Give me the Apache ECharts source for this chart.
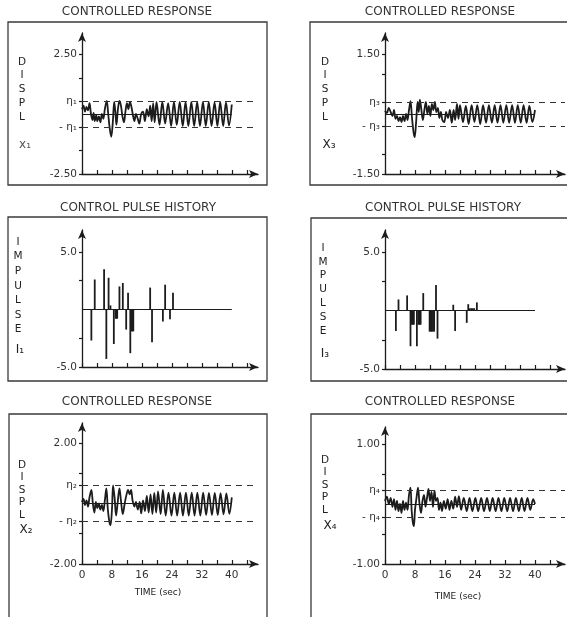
<!DOCTYPE html>
<html>
<head>
<meta charset="utf-8">
<script src="https://cdn.jsdelivr.net/npm/echarts@6/dist/echarts.min.js"></script>
<style>
html, body { margin: 0; padding: 0; background: #fff; }
#main { width: 567px; height: 617px; }
</style>
</head>
<body>
<div id="main"></div>
<script>
// time axis
var timeTicks = [0, 4, 8, 12, 16, 20, 24, 28, 32, 36, 40, 44];
var timeLabels = [0, 8, 16, 24, 32, 40];

// dead-band half widths
var eta1 = 0.55, eta2 = 0.6, eta3 = 0.3, eta4 = 0.22;

// controlled response x1 [t, displ]
var x1Data = [
    [0, 0.2], [0.4, 0.35], [0.8, 0.1], [1.2, 0.3], [1.6, 0.15], [2.0, 0.45], [2.4, 0.0], [2.8, -0.25],
    [3.1, 0.05], [3.4, -0.3], [3.8, -0.05], [4.1, -0.3], [4.5, -0.1], [4.9, -0.35], [5.3, 0.0], [5.7, -0.2],
    [6.1, 0.2], [6.6, 0.55], [7.0, 0.0], [7.4, -0.6], [7.8, -0.95], [8.2, -0.4], [8.6, 0.5], [8.9, 0.1],
    [9.2, -0.45], [9.6, 0.2], [10.0, 0.55], [10.4, 0.35], [10.8, -0.1], [11.2, -0.35], [11.6, 0.1], [12.0, 0.45],
    [12.4, 0.2], [12.8, 0.5], [13.2, 0.3], [13.6, -0.05], [14.0, -0.3], [14.4, 0.0], [14.9, -0.2], [15.3, -0.4],
    [15.8, 0.0], [16.3, 0.1], [16.8, -0.3], [17.3, 0.2], [17.8, -0.1], [18.2, 0.35], [18.6, -0.3], [19.0, 0.45],
    [19.4, -0.35], [19.9, 0.5], [20.7, -0.45], [21.45, 0.5], [22.2, -0.4], [23.0, 0.45], [23.8, -0.5], [24.55, 0.5],
    [25.3, -0.45], [26.1, 0.5], [26.9, -0.5], [27.65, 0.5], [28.4, -0.5], [29.2, 0.5], [29.95, -0.5], [30.75, 0.5],
    [31.5, -0.5], [32.3, 0.5], [33.05, -0.5], [33.85, 0.5], [34.6, -0.5], [35.4, 0.48], [36.15, -0.5], [36.9, 0.5],
    [37.7, -0.5], [38.45, 0.48], [39.25, -0.48], [40.0, 0.4]
];

// controlled response x3
var x3Data = [
    [0, 0.08], [0.5, 0.02], [1.0, 0.15], [1.5, 0.05], [2.0, -0.05], [2.4, 0.1], [2.8, -0.12], [3.2, -0.05],
    [3.6, -0.18], [4.0, -0.08], [4.4, -0.2], [4.8, -0.05], [5.2, -0.18], [5.6, 0.0], [6.0, -0.15], [6.4, 0.1],
    [6.8, 0.32], [7.2, -0.1], [7.6, -0.45], [7.9, -0.58], [8.3, -0.2], [8.7, 0.3], [9.0, 0.05], [9.3, 0.36],
    [9.7, 0.1], [10.1, -0.15], [10.5, 0.1], [10.9, 0.3], [11.3, 0.0], [11.7, 0.2], [12.1, -0.05], [12.5, 0.25],
    [12.9, 0.1], [13.3, 0.3], [13.7, 0.05], [14.1, 0.15], [14.5, -0.1], [14.9, 0.05], [15.3, -0.15], [15.8, -0.2],
    [16.3, 0.05], [16.8, -0.1], [17.3, 0.1], [17.8, -0.22], [18.3, 0.1], [18.7, -0.15], [19.2, 0.25], [19.6, -0.12],
    [20.0, 0.22], [20.8, -0.2], [21.55, 0.2], [22.3, -0.25], [23.1, 0.22], [23.85, -0.2], [24.6, 0.22], [25.4, -0.25],
    [26.15, 0.22], [26.95, -0.22], [27.7, 0.22], [28.5, -0.22], [29.25, 0.22], [30.0, -0.22], [30.8, 0.22], [31.55, -0.22],
    [32.35, 0.22], [33.1, -0.22], [33.9, 0.22], [34.65, -0.22], [35.4, 0.22], [36.2, -0.22], [36.95, 0.22], [37.75, -0.22],
    [38.5, 0.2], [39.3, -0.2], [40.0, 0.1]
];

// controlled response x2
var x2Data = [
    [0, 0.05], [0.4, 0.15], [0.8, -0.05], [1.2, 0.1], [1.6, -0.1], [2.0, 0.2], [2.5, 0.45], [2.9, 0.0],
    [3.3, -0.3], [3.7, 0.05], [4.1, -0.15], [4.5, 0.0], [4.9, -0.2], [5.3, -0.05], [5.7, -0.25], [6.1, 0.1],
    [6.5, 0.5], [6.9, -0.2], [7.3, -0.6], [7.6, -0.72], [8.0, -0.2], [8.3, 0.6], [8.7, 0.2], [9.1, -0.4],
    [9.5, 0.0], [10.0, 0.5], [10.4, 0.1], [10.9, -0.35], [11.4, 0.0], [11.9, 0.3], [12.3, 0.45], [12.7, 0.3],
    [13.1, 0.45], [13.5, 0.1], [14.0, -0.1], [14.4, 0.05], [14.9, -0.2], [15.4, 0.05], [15.8, -0.33], [16.3, 0.1],
    [16.8, -0.25], [17.3, 0.25], [17.8, -0.3], [18.3, 0.3], [18.8, -0.35], [19.3, 0.35], [19.8, -0.3], [20.3, 0.4],
    [21.0, -0.35], [21.6, 0.45], [22.35, -0.4], [23.1, 0.36], [23.9, -0.4], [24.65, 0.36], [25.4, -0.4], [26.2, 0.36],
    [26.95, -0.4], [27.75, 0.36], [28.5, -0.4], [29.3, 0.36], [30.05, -0.4], [30.8, 0.36], [31.6, -0.4], [32.35, 0.36],
    [33.15, -0.38], [33.9, 0.35], [34.7, -0.38], [35.45, 0.35], [36.25, -0.38], [37.0, 0.34], [37.8, -0.36], [38.55, 0.33],
    [39.35, -0.34], [40.0, 0.2]
];

// controlled response x4
var x4Data = [
    [0, 0.05], [0.5, 0.12], [1.0, 0.0], [1.5, 0.1], [2.0, -0.05], [2.4, 0.08], [2.8, -0.1], [3.2, 0.05],
    [3.6, -0.12], [4.0, 0.0], [4.4, -0.15], [4.8, 0.05], [5.2, -0.1], [5.6, 0.02], [6.0, -0.1], [6.4, 0.15],
    [6.8, 0.27], [7.1, -0.1], [7.4, -0.3], [7.7, -0.37], [8.0, -0.1], [8.4, 0.1], [8.8, 0.27], [9.2, 0.0],
    [9.6, -0.15], [10.0, 0.05], [10.4, 0.15], [10.8, -0.05], [11.2, 0.1], [11.6, 0.25], [12.0, 0.05], [12.4, 0.2],
    [12.8, -0.05], [13.2, 0.22], [13.6, 0.05], [14.0, 0.1], [14.4, -0.1], [14.8, 0.02], [15.2, -0.12], [15.7, 0.05],
    [16.2, -0.08], [16.7, 0.08], [17.2, -0.1], [17.7, 0.05], [18.2, -0.08], [18.7, 0.12], [19.2, -0.05], [19.7, 0.13],
    [20.3, -0.1], [21.0, 0.1], [21.8, -0.12], [22.55, 0.1], [23.3, -0.12], [24.1, 0.1], [24.85, -0.12], [25.65, 0.1],
    [26.4, -0.12], [27.2, 0.1], [27.95, -0.12], [28.7, 0.1], [29.5, -0.12], [30.25, 0.1], [31.05, -0.12], [31.8, 0.1],
    [32.6, -0.12], [33.35, 0.1], [34.15, -0.12], [34.9, 0.1], [35.7, -0.12], [36.45, 0.1], [37.2, -0.12], [38.0, 0.1],
    [38.75, -0.1], [39.5, 0.08], [40.0, 0.0]
];

// control pulse history I1 [t, impulse]
var i1Data = [
    [2.5, -2.7], [3.4, 2.6], [5.9, 3.5], [6.5, -4.3], [7.1, 2.75], [7.6, 0.35], [8.5, -3.0], [9.0, -0.8],
    [9.2, -0.8], [9.4, -0.8], [10.0, 2.0], [10.9, 2.3], [11.8, -1.75], [12.3, 1.45], [12.9, -3.8], [13.3, -1.9],
    [13.5, -1.9], [13.7, -1.9], [18.2, 1.9], [18.7, -2.85], [21.6, -1.05], [22.2, 2.15], [23.5, -0.85], [24.3, 1.45]
];

// control pulse history I3
var i3Data = [
    [2.9, -1.75], [3.6, 0.95], [5.9, 1.3], [6.8, -3.05], [7.1, -1.2], [7.3, -1.2], [7.5, -1.2], [7.7, -1.2],
    [8.5, -3.05], [8.9, -1.2], [9.1, -1.2], [9.3, -1.2], [9.5, -1.2], [10.2, 1.5], [11.9, -1.8], [12.2, -1.8],
    [12.5, -1.8], [12.8, -1.8], [13.1, -1.8], [13.6, 2.2], [14.0, -2.4], [18.2, 0.5], [18.7, -1.75], [21.8, -1.05],
    [22.2, 0.55], [22.6, 0.2], [23.0, 0.2], [23.4, 0.2], [23.8, 0.2], [24.5, 0.7]
];

var ink = '#1c1c1c';
var font = 'DejaVu Sans';

var panels = [
    { grid: { left: 82, top: 33, width: 176, height: 141 }, xMax: 47, yMin: -2.5, yMax: 3.375,
      kind: 'resp', data: x1Data, eta: eta1, sub: '₁', ticks: [-2.5, -1.5, -eta1, eta1, 1.5, 2.5], fmt: 2, time: false },
    { grid: { left: 385, top: 33, width: 180, height: 141 }, xMax: 48, yMin: -1.5, yMax: 2.025,
      kind: 'resp', data: x3Data, eta: eta3, sub: '₃', ticks: [-1.5, -1.0, -eta3, eta3, 1.0, 1.5], fmt: 2, time: false },
    { grid: { left: 82, top: 230, width: 176, height: 137 }, xMax: 47, yMin: -5, yMax: 6.9,
      kind: 'pulse', data: i1Data, ticks: [-5, -2.5, 2.5, 5], fmt: 1, time: false },
    { grid: { left: 385, top: 230, width: 180, height: 139 }, xMax: 48, yMin: -5, yMax: 6.9,
      kind: 'pulse', data: i3Data, ticks: [-5, -2.5, 2.5, 5], fmt: 1, time: false },
    { grid: { left: 82, top: 423, width: 176, height: 141 }, xMax: 47, yMin: -2, yMax: 2.66,
      kind: 'resp', data: x2Data, eta: eta2, sub: '₂', ticks: [-2, -1, -eta2, eta2, 1, 2], fmt: 2, time: true },
    { grid: { left: 385, top: 427, width: 180, height: 137 }, xMax: 48, yMin: -1, yMax: 1.28,
      kind: 'resp', data: x4Data, eta: eta4, sub: '₄', ticks: [-1, -0.5, -eta4, eta4, 0.5, 1], fmt: 2, time: true }
];

var grids = [], xAxes = [], yAxes = [], series = [];

panels.forEach(function (p, i) {
    grids.push(p.grid);
    var absMax = p.kind === 'resp' ? -p.yMin : 5;
    var labelVals = p.kind === 'resp' ? [-absMax, -p.eta, p.eta, absMax] : [-5, 5];
    xAxes.push({
        gridIndex: i, type: 'value', min: 0, max: p.xMax,
        axisLine: { onZero: false, symbol: ['none', 'arrow'], symbolSize: [6, 9], lineStyle: { color: ink, width: 1.3 } },
        axisTick: { inside: true, length: 4, customValues: timeTicks, lineStyle: { color: ink, width: 1.2 } },
        axisLabel: { show: p.time, customValues: timeLabels, color: '#333', fontFamily: font, fontSize: 10.5, margin: 6 },
        splitLine: { show: false }
    });
    yAxes.push({
        gridIndex: i, type: 'value', min: p.yMin, max: p.yMax,
        axisLine: { onZero: false, symbol: ['none', 'arrow'], symbolSize: [6, 9], lineStyle: { color: ink, width: 1.3 } },
        axisTick: { length: 3, customValues: p.ticks, lineStyle: { color: ink, width: 1.2 } },
        axisLabel: {
            customValues: labelVals, color: '#333', fontFamily: font, fontSize: 10.5, margin: 5,
            formatter: function (v) {
                if (p.kind === 'resp' && Math.abs(Math.abs(v) - p.eta) < 1e-9) {
                    return (v < 0 ? '- η' : 'η') + p.sub;
                }
                return v.toFixed(p.fmt);
            }
        },
        splitLine: { show: false }
    });
    if (p.kind === 'resp') {
        series.push({
            type: 'line', xAxisIndex: i, yAxisIndex: i, data: p.data,
            showSymbol: false, smooth: 0.35, lineStyle: { color: ink, width: 1.8 },
            markLine: {
                silent: true, symbol: 'none', label: { show: false },
                lineStyle: { color: '#333', type: [6, 5], width: 1.1 },
                data: [
                    [{ coord: [0, p.eta] }, { coord: [p.xMax, p.eta] }],
                    [{ coord: [0, -p.eta] }, { coord: [p.xMax, -p.eta] }],
                    [{ coord: [0, 0], lineStyle: { type: 'solid', color: ink, width: 1 } }, { coord: [40, 0] }]
                ]
            }
        });
    } else {
        series.push({
            type: 'bar', xAxisIndex: i, yAxisIndex: i, data: p.data,
            barWidth: 1.8, itemStyle: { color: ink },
            markLine: {
                silent: true, symbol: 'none', label: { show: false },
                lineStyle: { color: ink, type: 'solid', width: 1 },
                data: [[{ coord: [0, 0] }, { coord: [40, 0] }]]
            }
        });
    }
});

// frames and text labels
var graphic = [];
function frame(x, y, w, h) {
    graphic.push({ type: 'rect', shape: { x: x, y: y, width: w, height: h }, silent: true,
        style: { fill: 'none', stroke: '#3a3a3a', lineWidth: 1.3 } });
}
function text(str, x, y, size, extra) {
    var el = { type: 'text', x: x, y: y, silent: true,
        style: { text: str, fill: '#222', font: size + 'px "' + font + '"', align: 'center', verticalAlign: 'middle' } };
    if (extra) { for (var k in extra) { el.style[k] = extra[k]; } }
    graphic.push(el);
}
function column(letters, x, yFirst, step) {
    text(letters.join('\n'), x, yFirst - step / 2, 10.5, { verticalAlign: 'top', lineHeight: step });
}

frame(8, 22, 259, 163);
frame(310, 22, 270, 163);
frame(8, 217, 259, 164);
frame(311, 218, 270, 163);
frame(9, 414, 258, 215);
frame(311, 414, 270, 215);

text('CONTROLLED RESPONSE', 137, 12, 12, { fill: '#333' });
text('CONTROLLED RESPONSE', 440, 12, 12, { fill: '#333' });
text('CONTROL PULSE HISTORY', 138, 208, 12, { fill: '#333' });
text('CONTROL PULSE HISTORY', 443, 208, 12, { fill: '#333' });
text('CONTROLLED RESPONSE', 137, 402, 12, { fill: '#333' });
text('CONTROLLED RESPONSE', 440, 402, 12, { fill: '#333' });

column(['D', 'I', 'S', 'P', 'L'], 22, 62, 13.75);
text('x₁', 25, 145, 12, { fill: '#555' });
column(['D', 'I', 'S', 'P', 'L'], 325, 62, 13.75);
text('X₃', 329, 145, 12);
column(['I', 'M', 'P', 'U', 'L', 'S', 'E'], 18, 242, 14.6);
text('I₁', 20, 350, 12);
column(['I', 'M', 'P', 'U', 'L', 'S', 'E'], 323, 248, 13.8);
text('I₃', 325, 354, 12);
column(['D', 'I', 'S', 'P', 'L'], 22, 465, 12.5);
text('X₂', 26, 530, 12);
column(['D', 'I', 'S', 'P', 'L'], 325, 460, 12.5);
text('X₄', 330, 526, 12);

text('TIME (sec)', 158, 593, 9);
text('TIME (sec)', 458, 597, 9);

var myChart = echarts.init(document.getElementById('main'));
myChart.setOption({
    animation: false,
    backgroundColor: '#fff',
    grid: grids,
    xAxis: xAxes,
    yAxis: yAxes,
    series: series,
    graphic: graphic
});
window.addEventListener('resize', function () {
    myChart.resize();
});
</script>
</body>
</html>
